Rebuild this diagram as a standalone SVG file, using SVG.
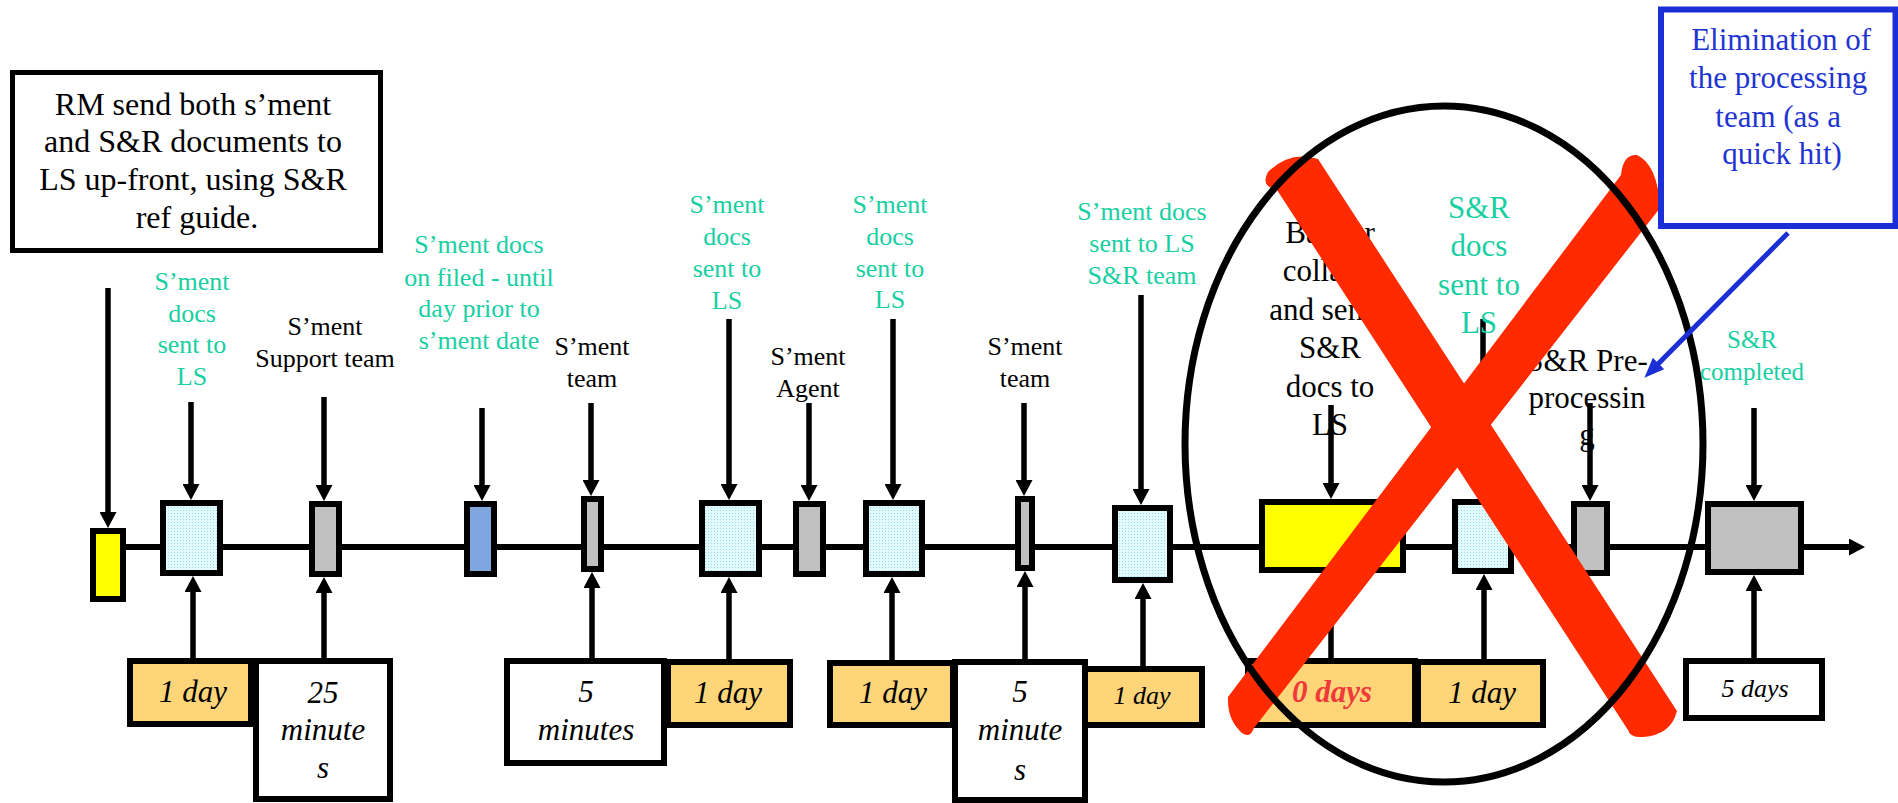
<svg xmlns="http://www.w3.org/2000/svg" width="1898" height="803" viewBox="0 0 1898 803">
  <defs>
    <pattern id="dots" width="3" height="3" patternUnits="userSpaceOnUse">
      <rect width="3" height="3" fill="#E2FAFB"/>
      <rect width="1" height="1" fill="#95DDE6"/>
    </pattern>
    <marker id="head" markerUnits="userSpaceOnUse" markerWidth="16" markerHeight="17" refX="4" refY="8.5" orient="auto">
      <path d="M0,0 L16,8.5 L0,17 Z" fill="#000"/>
    </marker>
    <marker id="bluehead" markerUnits="userSpaceOnUse" markerWidth="20" markerHeight="16" refX="5" refY="8" orient="auto">
      <path d="M0,0 L20,8 L0,16 Z" fill="#1A2FD6"/>
    </marker>
  </defs>
  <style>
    text { font-family: "Liberation Serif", "Times New Roman", serif; text-anchor: middle; }
    .lbl { font-size: 26px; }
    .big { font-size: 31px; }
    .grn { fill: #17CFA2; }
    .blk { fill: #000; }
    .time { font-size: 31px; font-style: italic; fill: #000; }
    .time-s { font-size: 26px; font-style: italic; fill: #000; }
    .box { stroke: #000; stroke-width: 6; }
    .cyan { fill: url(#dots); }
    .gray { fill: #BFC0BF; }
    .yel { fill: #FFFF00; }
    .blu { fill: #7FA6DF; }
    .org { fill: #FFD57A; }
    .wht { fill: #FFFFFF; }
    .conn { stroke: #000; stroke-width: 6; fill: none; }
    .arrow { stroke: #000; stroke-width: 5.5; fill: none; marker-end: url(#head); }
  </style>

  <rect width="1898" height="803" fill="#FFFFFF"/>

  <!-- flow connectors: timeline and the vertical arrows -->
  <g id="connectors">
    <line class="conn" x1="124" y1="547" x2="1853" y2="547" marker-end="url(#head)"/>
    <!-- inputs from above -->
    <line class="arrow" x1="108" y1="288" x2="108" y2="516"/>
    <line class="arrow" x1="191" y1="402" x2="191" y2="488"/>
    <line class="arrow" x1="324" y1="397" x2="324" y2="489"/>
    <line class="arrow" x1="482" y1="408" x2="482" y2="489"/>
    <line class="arrow" x1="591" y1="403" x2="591" y2="484"/>
    <line class="arrow" x1="729" y1="319" x2="729" y2="488"/>
    <line class="arrow" x1="809" y1="403" x2="809" y2="489"/>
    <line class="arrow" x1="893" y1="319" x2="893" y2="488"/>
    <line class="arrow" x1="1024" y1="403" x2="1024" y2="484"/>
    <line class="arrow" x1="1141" y1="295" x2="1141" y2="493"/>
    <line class="arrow" x1="1331" y1="405" x2="1331" y2="487"/>
    <line class="arrow" x1="1483" y1="319" x2="1483" y2="487"/>
    <line class="arrow" x1="1590" y1="403" x2="1590" y2="489"/>
    <line class="arrow" x1="1754" y1="408" x2="1754" y2="489"/>
    <!-- durations feeding up -->
    <line class="arrow" x1="193" y1="658" x2="193" y2="588"/>
    <line class="arrow" x1="324" y1="658" x2="324" y2="589"/>
    <line class="arrow" x1="592" y1="658" x2="592" y2="584"/>
    <line class="arrow" x1="729" y1="659" x2="729" y2="589"/>
    <line class="arrow" x1="892" y1="660" x2="892" y2="589"/>
    <line class="arrow" x1="1025" y1="659" x2="1025" y2="583"/>
    <line class="arrow" x1="1143" y1="666" x2="1143" y2="595"/>
    <line class="arrow" x1="1331" y1="658" x2="1331" y2="585"/>
    <line class="arrow" x1="1484" y1="659" x2="1484" y2="586"/>
    <line class="arrow" x1="1754" y1="658" x2="1754" y2="587"/>
  </g>

  <!-- start: RM sends documents -->
  <g id="rm-send">
    <rect x="12.5" y="72.5" width="368" height="178" fill="#FFFFFF" stroke="#000" stroke-width="5"/>
    <text class="blk" style="font-size:32px">
      <tspan x="197" y="115">RM send both s’ment</tspan>
      <tspan x="197" y="152">and S&amp;R documents to</tspan>
      <tspan x="197" y="190">LS up-front, using S&amp;R</tspan>
      <tspan x="197" y="228">ref guide.</tspan>
    </text>
    <rect class="box yel" x="93" y="531" width="30" height="68"/>
  </g>

  <g id="step-docs-1">
    <text class="lbl grn"><tspan x="192" y="290">S’ment</tspan><tspan x="192" y="322">docs</tspan><tspan x="192" y="353">sent to</tspan><tspan x="192" y="385">LS</tspan></text>
    <rect class="box cyan" x="163" y="503" width="57" height="70"/>
  </g>

  <g id="step-support">
    <text class="lbl blk"><tspan x="325" y="335">S’ment</tspan><tspan x="325" y="367">Support team</tspan></text>
    <rect class="box gray" x="312" y="504" width="27" height="70"/>
  </g>

  <g id="step-filed">
    <text class="lbl grn"><tspan x="479" y="253">S’ment docs</tspan><tspan x="479" y="286">on filed - until</tspan><tspan x="479" y="317">day prior to</tspan><tspan x="479" y="349">s’ment date</tspan></text>
    <rect class="box blu" x="467" y="504" width="27" height="70"/>
  </g>

  <g id="step-team-1">
    <text class="lbl blk"><tspan x="592" y="355">S’ment</tspan><tspan x="592" y="387">team</tspan></text>
    <rect class="box gray" x="584" y="499" width="17" height="70"/>
  </g>

  <g id="step-docs-2">
    <text class="lbl grn"><tspan x="727" y="213">S’ment</tspan><tspan x="727" y="245">docs</tspan><tspan x="727" y="277">sent to</tspan><tspan x="727" y="309">LS</tspan></text>
    <rect class="box cyan" x="702" y="503" width="57" height="71"/>
  </g>

  <g id="step-agent">
    <text class="lbl blk"><tspan x="808" y="365">S’ment</tspan><tspan x="808" y="397">Agent</tspan></text>
    <rect class="box gray" x="796" y="504" width="27" height="70"/>
  </g>

  <g id="step-docs-3">
    <text class="lbl grn"><tspan x="890" y="213">S’ment</tspan><tspan x="890" y="245">docs</tspan><tspan x="890" y="277">sent to</tspan><tspan x="890" y="308">LS</tspan></text>
    <rect class="box cyan" x="866" y="503" width="56" height="71"/>
  </g>

  <g id="step-team-2">
    <text class="lbl blk"><tspan x="1025" y="355">S’ment</tspan><tspan x="1025" y="387">team</tspan></text>
    <rect class="box gray" x="1018" y="499" width="14" height="69"/>
  </g>

  <g id="step-docs-sr-team">
    <text class="lbl grn"><tspan x="1142" y="220">S’ment docs</tspan><tspan x="1142" y="252">sent to LS</tspan><tspan x="1142" y="284">S&amp;R team</tspan></text>
    <rect class="box cyan" x="1115" y="508" width="55" height="72"/>
  </g>

  <g id="step-banker">
    <text class="big blk"><tspan x="1330" y="243">Banker</tspan><tspan x="1330" y="281">collates</tspan><tspan x="1330" y="320">and sends</tspan><tspan x="1330" y="358">S&amp;R</tspan><tspan x="1330" y="397">docs to</tspan><tspan x="1330" y="435">LS</tspan></text>
    <rect class="box yel" x="1262" y="502" width="141" height="68"/>
  </g>

  <g id="step-sr-docs">
    <text class="big grn"><tspan x="1479" y="218">S&amp;R</tspan><tspan x="1479" y="256">docs</tspan><tspan x="1479" y="295">sent to</tspan><tspan x="1479" y="333">LS</tspan></text>
    <rect class="box cyan" x="1455" y="502" width="56" height="69"/>
  </g>

  <g id="step-preprocessing">
    <text class="big blk"><tspan x="1587" y="371">S&amp;R Pre-</tspan><tspan x="1587" y="408">processin</tspan><tspan x="1587" y="445">g</tspan></text>
    <rect class="box gray" x="1574" y="504" width="33" height="69"/>
  </g>

  <g id="step-completed">
    <text class="grn" style="font-size:25px"><tspan x="1752" y="348">S&amp;R</tspan><tspan x="1752" y="380">completed</tspan></text>
    <rect class="box gray" x="1708" y="504" width="93" height="68"/>
  </g>

  <!-- durations -->
  <g id="time-1"><rect class="box org" x="130" y="661" width="121" height="63"/><text class="time" x="193" y="702">1 day</text></g>
  <g id="time-2"><rect class="box wht" x="256" y="661" width="134" height="138"/><text class="time"><tspan x="323" y="703">25</tspan><tspan x="323" y="740">minute</tspan><tspan x="323" y="778">s</tspan></text></g>
  <g id="time-3"><rect class="box wht" x="507" y="661" width="157" height="102"/><text class="time"><tspan x="586" y="702">5</tspan><tspan x="586" y="740">minutes</tspan></text></g>
  <g id="time-4"><rect class="box org" x="668" y="662" width="122" height="63"/><text class="time" x="728" y="703">1 day</text></g>
  <g id="time-5"><rect class="box org" x="830" y="663" width="123" height="62"/><text class="time" x="893" y="703">1 day</text></g>
  <g id="time-7"><rect class="box org" x="1080" y="669" width="122" height="56"/><text class="time-s" x="1142" y="704">1 day</text></g>
  <g id="time-6"><rect class="box wht" x="955" y="662" width="130" height="138"/><text class="time"><tspan x="1020" y="702">5</tspan><tspan x="1020" y="740">minute</tspan><tspan x="1020" y="780">s</tspan></text></g>
  <g id="time-8"><rect class="box org" x="1248" y="661" width="167" height="64"/><text class="time" x="1332" y="702" style="fill:#F03A3A;font-weight:bold">0 days</text></g>
  <g id="time-9"><rect class="box org" x="1418" y="662" width="125" height="63"/><text class="time" x="1482" y="703">1 day</text></g>
  <g id="time-10"><rect class="box wht" x="1686" y="661" width="136" height="57"/><text class="time-s" x="1755" y="697">5 days</text></g>

  <!-- crossed-out section -->
  <g id="cross-out" fill="#FF2A00">
    <path d="M1318,159 L1677,711 Q1671,735 1643,737 Q1630,738 1628,730 L1277,190 Q1260,186 1268,172 Q1290,150 1318,159 Z"/>
    <path d="M1621,175 Q1623,154 1637,155 Q1658,165 1660,208 L1254,728 Q1250,739 1242,733 Q1227,720 1228,697 Z"/>
  </g>
  <g id="scope-ring">
    <ellipse cx="1444" cy="444" rx="259" ry="338" fill="none" stroke="#000" stroke-width="7"/>
  </g>

  <!-- callout -->
  <g id="callout">
    <rect x="1661" y="9.5" width="234.5" height="216.5" fill="#FFFFFF" stroke="#1A2FD6" stroke-width="6"/>
    <text class="big" style="fill:#1F35D2">
      <tspan x="1785" y="50">Elimination of</tspan>
      <tspan x="1782" y="88">the processing</tspan>
      <tspan x="1782" y="127">team (as a</tspan>
      <tspan x="1782" y="164">quick hit)</tspan>
    </text>
    <line x1="1788" y1="233" x2="1655" y2="367" stroke="#1A2FD6" stroke-width="5" marker-end="url(#bluehead)"/>
  </g>
</svg>
